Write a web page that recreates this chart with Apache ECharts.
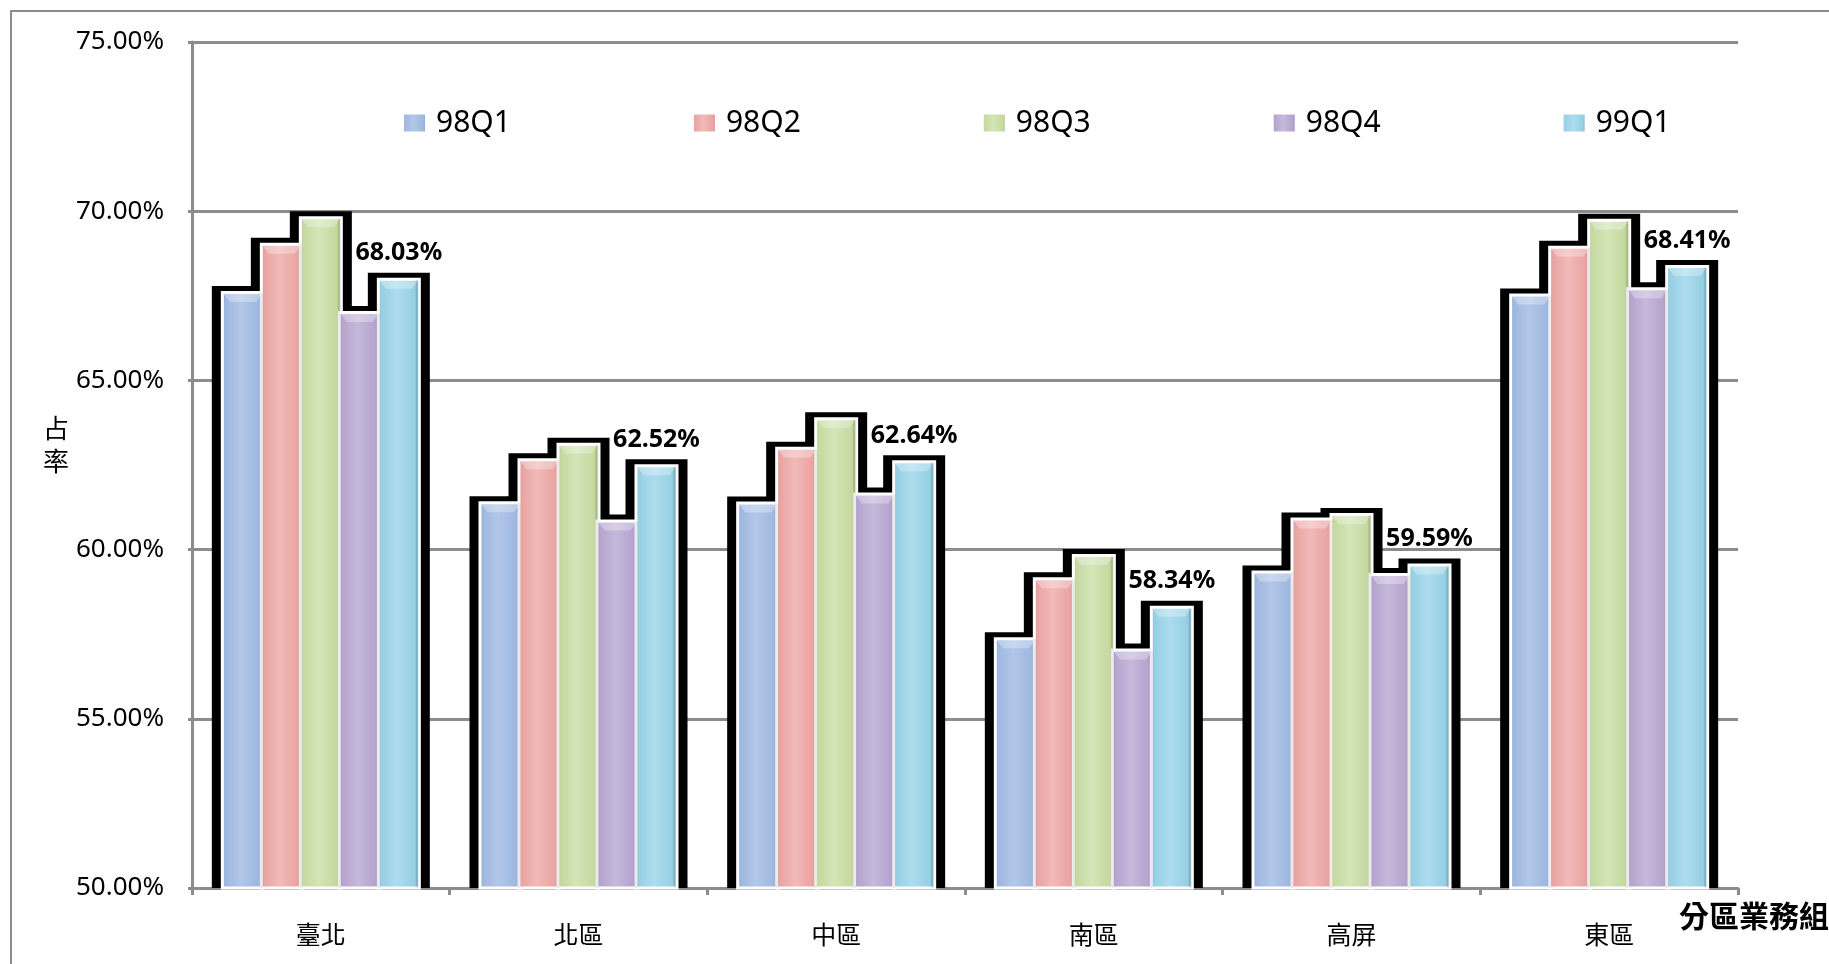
<!DOCTYPE html>
<html>
<head>
<meta charset="utf-8">
<script src="https://cdn.jsdelivr.net/npm/echarts@6/dist/echarts.min.js"></script>
<style>
html,body{margin:0;padding:0;background:#fff;}
#chart{width:1829px;height:964px;}
</style>
</head>
<body>
<div id="chart"></div>
<script>
const categories = ['臺北', '北區', '中區', '南區', '高屏', '東區'];
const seriesNames = ['98Q1', '98Q2', '98Q3', '98Q4', '99Q1'];
const q98Q1 = [67.64, 61.43, 61.42, 57.41, 59.38, 67.57];
const q98Q2 = [69.07, 62.70, 63.04, 59.18, 60.95, 68.98];
const q98Q3 = [69.85, 63.16, 63.91, 59.87, 61.08, 69.78];
const q98Q4 = [67.05, 60.89, 61.69, 57.08, 59.31, 67.75];
const q99Q1 = [68.03, 62.52, 62.64, 58.34, 59.59, 68.41];
const yTickValues = [50, 55, 60, 65, 70, 75];
const yTickLabels = ['50.00%', '55.00%', '60.00%', '65.00%', '70.00%', '75.00%'];
const yAxisName = '占率';
const xAxisName = '分區業務組';

const allValues = [q98Q1, q98Q2, q98Q3, q98Q4, q99Q1];
const palette = [
  {edge: '#7f99c4', base: '#9fb8df', light: '#b2c7e9'},
  {edge: '#c98583', base: '#e9a4a2', light: '#f1bab8'},
  {edge: '#a1b77c', base: '#c5d9a0', light: '#d4e5b7'},
  {edge: '#9485b0', base: '#b5a4ce', light: '#c6b9db'},
  {edge: '#6eaac0', base: '#96d0e3', light: '#addcee'}
];

const BW = 44;       // bar width px
const PITCH = 39;    // distance between bar lefts
const GAP = PITCH - BW;
const TOTAL = 5 * BW + 4 * GAP;
const FONT = '"Noto Sans", "Noto Sans CJK TC", sans-serif';

function grad(p) {
  return new echarts.graphic.LinearGradient(0, 0, 1, 0, [
    {offset: 0, color: p.edge},
    {offset: 0.1, color: p.base},
    {offset: 0.45, color: p.light},
    {offset: 0.85, color: p.base},
    {offset: 1, color: p.edge}
  ]);
}

const chart = echarts.init(document.getElementById('chart'), null, {renderer: 'canvas'});

const groupData = categories.map((c, i) => [i, q98Q1[i], q98Q2[i], q98Q3[i], q98Q4[i], q99Q1[i]]);

const series = [{
  type: 'custom',
  name: 'outline',
  z: 1,
  silent: true,
  encode: {x: 0, y: [1, 2, 3, 4, 5]},
  data: groupData,
  renderItem: function (params, api) {
    const i = api.value(0);
    const base = api.coord([i, 50]);
    const cx = base[0];
    const children = [];
    for (let j = 0; j < 5; j++) {
      const v = api.value(j + 1);
      const top = api.coord([i, v])[1];
      const left = cx - TOTAL / 2 + j * PITCH;
      children.push({
        type: 'rect',
        shape: {x: left - 9, y: top - 5, width: BW + 18, height: base[1] - top + 5},
        style: {fill: '#000'}
      });
    }
    return {type: 'group', children: children};
  }
}, {
  type: 'custom',
  name: 'bevel',
  z: 3,
  silent: true,
  encode: {x: 0, y: [1, 2, 3, 4, 5]},
  data: groupData,
  renderItem: function (params, api) {
    const i = api.value(0);
    const base = api.coord([i, 50]);
    const cx = base[0];
    const children = [];
    for (let j = 0; j < 5; j++) {
      const v = api.value(j + 1);
      const top = api.coord([i, v])[1];
      const left = cx - TOTAL / 2 + j * PITCH;
      const right = left + BW;
      children.push({
        type: 'polygon',
        shape: {points: [[left + 2, top + 2], [right - 2, top + 2], [right - 9, top + 11], [left + 9, top + 11]]},
        style: {fill: 'rgba(255,255,255,0.3)'}
      });
      children.push({
        type: 'rect',
        shape: {x: right - 5, y: top + 2, width: 3, height: base[1] - top - 2},
        style: {fill: 'rgba(0,0,0,0.08)'}
      });
    }
    return {type: 'group', children: children};
  }
}];

seriesNames.forEach((name, j) => {
  const s = {
    type: 'bar',
    name: name,
    z: 2,
    data: allValues[j],
    barWidth: BW,
    barGap: (GAP / BW * 100).toFixed(2) + '%',
    itemStyle: {
      color: grad(palette[j]),
      borderColor: '#ffffff',
      borderWidth: 3
    },
    emphasis: {disabled: true}
  };
  if (j === 4) {
    s.label = {
      show: true,
      position: 'top',
      distance: 12,
      formatter: p => p.value.toFixed(2) + '%',
      fontSize: 25,
      fontWeight: 'bold',
      fontFamily: FONT,
      color: '#000'
    };
  }
  series.push(s);
});

const option = {
  animation: false,
  backgroundColor: '#ffffff',
  grid: {left: 192, right: 91, top: 42, bottom: 76, containLabel: false},
  legend: {
    data: seriesNames,
    left: 397,
    top: 100,
    itemWidth: 23,
    itemHeight: 19,
    itemGap: 181,
    icon: 'rect',
    textStyle: {fontSize: 30, fontFamily: FONT, color: '#000', padding: [0, 0, 0, 5], lineHeight: 36}
  },
  xAxis: {
    type: 'category',
    data: categories,
    axisLine: {show: true, lineStyle: {color: '#8c8c8c', width: 3}},
    axisTick: {show: true, length: 7, lineStyle: {color: '#8c8c8c', width: 3}},
    axisLabel: {fontSize: 25, fontFamily: FONT, color: '#000', margin: 36}
  },
  yAxis: {
    type: 'value',
    min: 50,
    max: 75,
    interval: 5,
    axisLine: {show: true, lineStyle: {color: '#8c8c8c', width: 3}},
    axisTick: {show: true, length: 4, lineStyle: {color: '#8c8c8c', width: 3}},
    splitLine: {show: true, lineStyle: {color: '#8c8c8c', width: 3}},
    axisLabel: {
      fontSize: 26,
      fontFamily: FONT,
      color: '#000',
      margin: 28,
      formatter: v => {
        const k = yTickValues.indexOf(v);
        return k >= 0 ? yTickLabels[k] : '';
      }
    }
  },
  graphic: [
    {
      type: 'rect',
      z: -1,
      silent: true,
      shape: {x: 11, y: 11, width: 2400, height: 2400},
      style: {fill: 'none', stroke: '#8c8c8c', lineWidth: 2}
    },
    {
      type: 'text',
      left: 43,
      top: 414,
      style: {
        text: yAxisName.split('').join('\n'),
        font: '26px ' + FONT,
        lineHeight: 33,
        fill: '#000'
      }
    },
    {
      type: 'text',
      left: 1679,
      top: 903,
      style: {
        text: xAxisName,
        font: 'bold 30px ' + FONT,
        fill: '#000'
      }
    }
  ],
  series: series
};

chart.setOption(option);
</script>
</body>
</html>
